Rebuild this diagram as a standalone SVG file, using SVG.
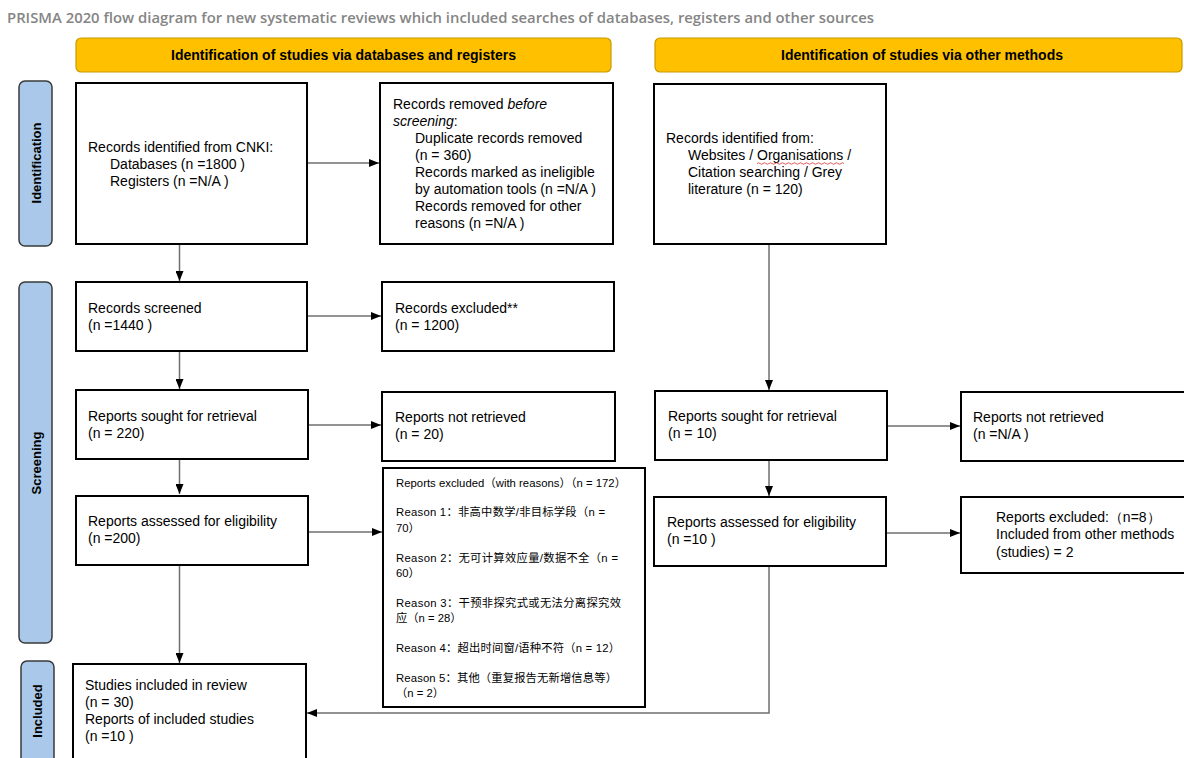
<svg xmlns="http://www.w3.org/2000/svg" width="1184" height="758" viewBox="0 0 1184 758">
<defs>
<marker id="arr" markerWidth="10" markerHeight="8" refX="10" refY="4" orient="auto" markerUnits="userSpaceOnUse">
<path d="M0,0 L10,4 L0,8 Z" fill="#000"/>
</marker>
<style>
.bg{fill:#fff}
.box{fill:#fff;stroke:#000;stroke-width:2}
.hdr{fill:#FFC000;stroke:#C89A00;stroke-width:1.2}
.side{fill:#A9C8EA;stroke:#3a3a3a;stroke-width:1.5}
.t{font-family:"Liberation Sans",Arial,sans-serif;font-size:14px;fill:#000}
.s{font-family:"Liberation Sans","Noto Sans CJK SC",sans-serif;font-size:11.3px;fill:#000}
.h{font-family:"Liberation Sans",Arial,sans-serif;font-size:14px;font-weight:bold;fill:#000}
.v{font-family:"Liberation Sans",Arial,sans-serif;font-size:13px;font-weight:bold;fill:#000}
.title{font-family:"Open Sans","Liberation Sans",sans-serif;font-size:14px;font-weight:600;fill:#858585}
.c{fill:none;stroke:#6f6f6f;stroke-width:1.5}
</style>
</defs>
<rect class="bg" x="0" y="0" width="1184" height="758"/>
<text class="title" x="7" y="23" textLength="867" lengthAdjust="spacingAndGlyphs">PRISMA 2020 flow diagram for new systematic reviews which included searches of databases, registers and other sources</text>

<g id="hdr-left">
<rect class="hdr" x="76" y="38" width="535" height="34" rx="5"/>
<text class="h" x="343.5" y="60" text-anchor="middle" textLength="345" lengthAdjust="spacingAndGlyphs">Identification of studies via databases and registers</text>
</g>
<g id="hdr-right">
<rect class="hdr" x="655" y="38" width="527" height="34" rx="5"/>
<text class="h" x="922" y="60" text-anchor="middle" textLength="282" lengthAdjust="spacingAndGlyphs">Identification of studies via other methods</text>
</g>

<g id="lbl-identification">
<rect class="side" x="19" y="81" width="33" height="165" rx="6"/>
<text class="v" transform="translate(41,163) rotate(-90)" text-anchor="middle">Identification</text>
</g>
<g id="lbl-screening">
<rect class="side" x="19" y="282" width="33" height="361" rx="6"/>
<text class="v" transform="translate(41,463) rotate(-90)" text-anchor="middle">Screening</text>
</g>
<g id="lbl-included">
<rect class="side" x="21" y="661" width="33" height="110" rx="6"/>
<text class="v" transform="translate(42,711) rotate(-90)" text-anchor="middle">Included</text>
</g>

<g id="connectors">
<line class="c" x1="307" y1="163" x2="379" y2="163" marker-end="url(#arr)"/>
<line class="c" x1="179.5" y1="244" x2="179.5" y2="281" marker-end="url(#arr)"/>
<line class="c" x1="307" y1="316" x2="381" y2="316" marker-end="url(#arr)"/>
<line class="c" x1="179.5" y1="351" x2="179.5" y2="389" marker-end="url(#arr)"/>
<line class="c" x1="308" y1="425" x2="381" y2="425" marker-end="url(#arr)"/>
<line class="c" x1="179.5" y1="459" x2="179.5" y2="494" marker-end="url(#arr)"/>
<line class="c" x1="308" y1="532" x2="382" y2="532" marker-end="url(#arr)"/>
<line class="c" x1="179.5" y1="565" x2="179.5" y2="663" marker-end="url(#arr)"/>
<line class="c" x1="769" y1="244" x2="769" y2="390" marker-end="url(#arr)"/>
<line class="c" x1="887" y1="426" x2="960" y2="426" marker-end="url(#arr)"/>
<line class="c" x1="769" y1="460" x2="769" y2="496" marker-end="url(#arr)"/>
<line class="c" x1="886" y1="533" x2="960" y2="533" marker-end="url(#arr)"/>
<polyline class="c" points="769,566 769,713 307,713" marker-end="url(#arr)"/>
</g>

<g id="box-records-identified">
<rect class="box" x="76" y="83" width="231" height="161"/>
<text class="t" x="88" y="152">Records identified from CNKI:</text>
<text class="t" x="110" y="169">Databases (n =1800 )</text>
<text class="t" x="110" y="186">Registers (n =N/A )</text>
</g>

<g id="box-records-removed">
<rect class="box" x="380" y="83" width="233" height="161"/>
<text class="t" x="393" y="109">Records removed <tspan font-style="italic">before</tspan></text>
<text class="t" x="393" y="126" font-style="italic">screening<tspan font-style="normal">:</tspan></text>
<text class="t" x="415" y="143">Duplicate records removed</text>
<text class="t" x="415" y="160">(n = 360)</text>
<text class="t" x="415" y="177">Records marked as ineligible</text>
<text class="t" x="415" y="194">by automation tools (n =N/A )</text>
<text class="t" x="415" y="211">Records removed for other</text>
<text class="t" x="415" y="228">reasons (n =N/A )</text>
</g>

<g id="box-other-identified">
<rect class="box" x="654" y="84" width="232" height="160"/>
<text class="t" x="666" y="143">Records identified from:</text>
<text class="t" x="688" y="160">Websites / Organisations /</text>
<text class="t" x="688" y="177">Citation searching / Grey</text>
<text class="t" x="688" y="194">literature (n = 120)</text>
<path d="M757,163.5 q1.5,-1.5 3,0 t3,0 t3,0 t3,0 t3,0 t3,0 t3,0 t3,0 t3,0 t3,0 t3,0 t3,0 t3,0 t3,0 t3,0 t3,0 t3,0 t3,0 t3,0 t3,0 t3,0 t3,0 t3,0 t3,0 t3,0 t3,0 t3,0 t3,0 t3,0" fill="none" stroke="#e03030" stroke-width="0.8"/>
</g>

<g id="box-records-screened">
<rect class="box" x="76" y="282" width="231" height="69"/>
<text class="t" x="88" y="313">Records screened</text>
<text class="t" x="88" y="330">(n =1440 )</text>
</g>

<g id="box-records-excluded">
<rect class="box" x="382" y="282" width="232" height="69"/>
<text class="t" x="395" y="313">Records excluded**</text>
<text class="t" x="395" y="330">(n = 1200)</text>
</g>

<g id="box-sought-db">
<rect class="box" x="76" y="390" width="232" height="69"/>
<text class="t" x="88" y="421">Reports sought for retrieval</text>
<text class="t" x="88" y="438">(n = 220)</text>
</g>

<g id="box-not-retrieved-db">
<rect class="box" x="382" y="392" width="233" height="69"/>
<text class="t" x="395" y="422">Reports not retrieved</text>
<text class="t" x="395" y="439">(n = 20)</text>
</g>

<g id="box-assessed-db">
<rect class="box" x="76" y="496" width="232" height="69"/>
<text class="t" x="88" y="526">Reports assessed for eligibility</text>
<text class="t" x="88" y="543">(n =200)</text>
</g>

<g id="box-excluded-reasons">
<rect class="box" x="383" y="468" width="262" height="239"/>
<text class="s" x="396" y="487" textLength="230" lengthAdjust="spacing">Reports excluded（with reasons）（n = 172）</text>
<text class="s" x="396" y="516" textLength="209" lengthAdjust="spacing">Reason 1：非高中数学/非目标学段（n =</text>
<text class="s" x="396" y="532">70）</text>
<text class="s" x="396" y="562" textLength="222" lengthAdjust="spacing">Reason 2：无可计算效应量/数据不全（n =</text>
<text class="s" x="396" y="577">60）</text>
<text class="s" x="396" y="607" textLength="225" lengthAdjust="spacing">Reason 3：干预非探究式或无法分离探究效</text>
<text class="s" x="396" y="622">应（n = 28）</text>
<text class="s" x="396" y="652" textLength="224" lengthAdjust="spacing">Reason 4：超出时间窗/语种不符（n = 12）</text>
<text class="s" x="396" y="682" textLength="221" lengthAdjust="spacing">Reason 5：其他（重复报告无新增信息等）</text>
<text class="s" x="396" y="697">（n = 2）</text>
</g>

<g id="box-sought-other">
<rect class="box" x="655" y="391" width="232" height="69"/>
<text class="t" x="668" y="421">Reports sought for retrieval</text>
<text class="t" x="668" y="438">(n = 10)</text>
</g>

<g id="box-not-retrieved-other">
<rect class="box" x="961" y="392" width="232" height="69"/>
<text class="t" x="973" y="422">Reports not retrieved</text>
<text class="t" x="973" y="439">(n =N/A )</text>
</g>

<g id="box-assessed-other">
<rect class="box" x="654" y="497" width="232" height="69"/>
<text class="t" x="667" y="527">Reports assessed for eligibility</text>
<text class="t" x="667" y="544">(n =10 )</text>
</g>

<g id="box-excluded-other">
<rect class="box" x="961" y="497" width="232" height="76"/>
<text class="t" x="996" y="522">Reports excluded:（n=8）</text>
<text class="t" x="996" y="539">Included from other methods</text>
<text class="t" x="996" y="557">(studies) = 2</text>
</g>

<g id="box-included">
<rect class="box" x="73" y="664" width="233" height="100"/>
<text class="t" x="85" y="690">Studies included in review</text>
<text class="t" x="85" y="707">(n = 30)</text>
<text class="t" x="85" y="724">Reports of included studies</text>
<text class="t" x="85" y="741">(n =10 )</text>
</g>
</svg>
